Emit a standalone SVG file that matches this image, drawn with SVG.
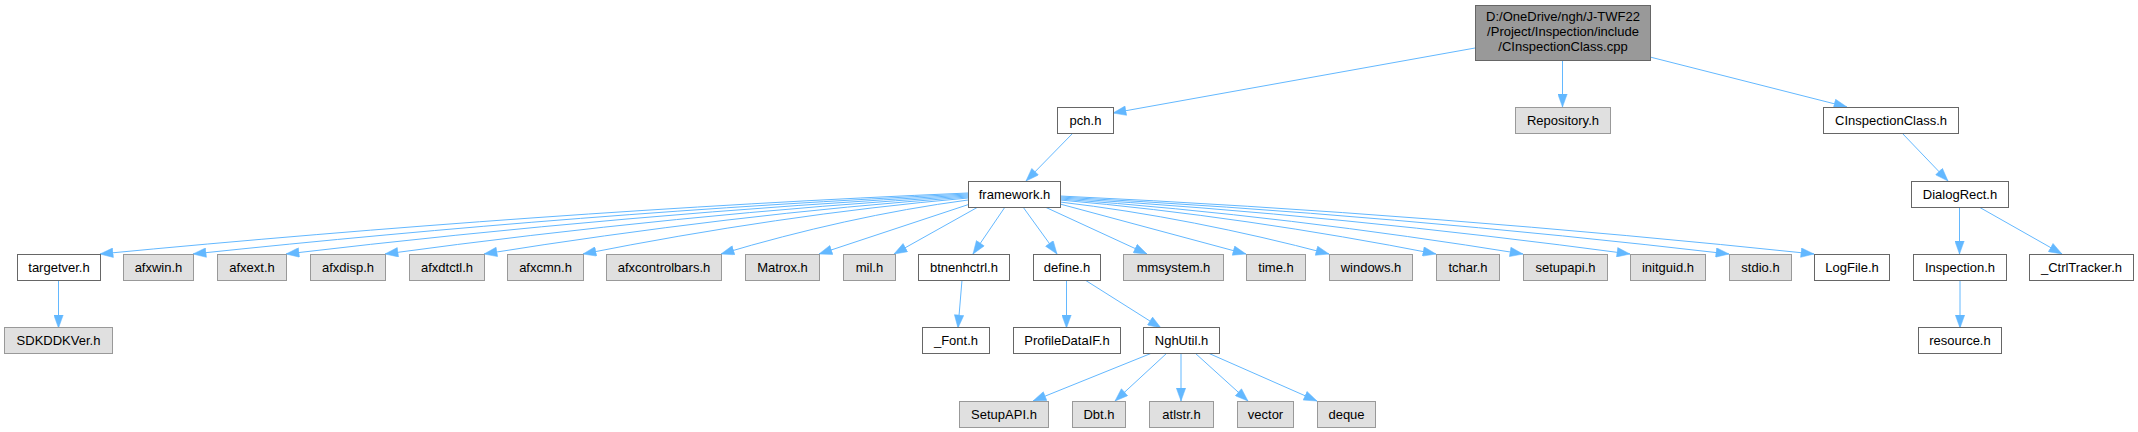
<svg xmlns="http://www.w3.org/2000/svg" width="2138" height="432" viewBox="0 0 2138 432">
<style>
.w rect{fill:#ffffff;stroke:#666666;stroke-width:1}
.g rect{fill:#e0e0e0;stroke:#999999;stroke-width:1}
.r rect{fill:#999999;stroke:#666666;stroke-width:1}
text{font-family:"Liberation Sans",Arial,sans-serif;font-size:13px;fill:#000000;text-anchor:middle}
#edges path{fill:none;stroke:#63b8ff;stroke-width:1;marker-end:url(#arr)}
</style>
<defs>
<marker id="arr" markerUnits="userSpaceOnUse" markerWidth="14" markerHeight="10" viewBox="0 0 13 10" refX="13" refY="5" orient="auto">
<path d="M0,0.3 L13,5 L0,9.7 z" fill="#63b8ff" stroke="#63b8ff" stroke-width="0.5"/>
</marker>
</defs>
<rect width="2138" height="432" fill="#ffffff"/>
<g id="edges">
<path d="M1475,48 L1113,113"/>
<path d="M1562.5,60 L1562.5,107"/>
<path d="M1650,57 L1847,107"/>
<path d="M1073,133 L1026,181"/>
<path d="M1902,133 L1948,181"/>
<path d="M1959.5,207 L1959.5,254"/>
<path d="M1979,207 L2062,254"/>
<path d="M1960,280 L1960,328"/>
<path d="M58.5,280 L58.5,328"/>
<path d="M962,280 L958,328"/>
<path d="M1066.5,280 L1066.5,328"/>
<path d="M1085,280 L1161,328"/>
<path d="M1152,353 L1033,401"/>
<path d="M1167,353 L1115,401"/>
<path d="M1181,353 L1181,401"/>
<path d="M1195,353 L1248,401"/>
<path d="M1208,353 L1317,401"/>
<path d="M968,193 C681.6,205.2 386.4,226.6 100,254"/>
<path d="M968,194 C712.3,206 448.8,227 193,254"/>
<path d="M968,195 C742.9,206.8 511.1,227.5 286,254"/>
<path d="M968,196 C775.6,207.6 577.4,227.9 385,254"/>
<path d="M968,197 C808.3,208.4 643.7,228.4 484,254"/>
<path d="M968,198 C840.9,209.2 710.1,228.8 583,254"/>
<path d="M968,200 C886.5,210.8 802.5,229.7 721,254"/>
<path d="M970,204 L819,254"/>
<path d="M978,207 L894,254"/>
<path d="M1005,207 L973,254"/>
<path d="M1023,207 L1057,254"/>
<path d="M1045,207 L1147,254"/>
<path d="M1060,204 L1246,254"/>
<path d="M1060,202 C1148.8,212.4 1240.2,230.6 1329,254"/>
<path d="M1060,200 C1184.1,210.8 1311.9,229.7 1436,254"/>
<path d="M1060,199 C1212.8,210 1370.2,229.3 1523,254"/>
<path d="M1060,198 C1248.1,209.2 1441.9,228.8 1630,254"/>
<path d="M1060,197 C1280.8,208.4 1508.2,228.4 1729,254"/>
<path d="M1060,196 C1308.8,207.6 1565.2,227.9 1814,254"/>
</g>
<g id="root" class="r"><rect x="1475.5" y="5.5" width="175" height="55"/><text x="1563" y="20.5">D:/OneDrive/ngh/J-TWF22</text><text x="1563" y="35.5">/Project/Inspection/include</text><text x="1563" y="50.5">/CInspectionClass.cpp</text></g>
<g id="pch" class="w"><rect x="1057.5" y="107.5" width="56" height="26"/><text x="1085.5" y="125">pch.h</text></g>
<g id="repository" class="g"><rect x="1515.5" y="107.5" width="95" height="26"/><text x="1563" y="125">Repository.h</text></g>
<g id="cinspectionclass" class="w"><rect x="1823.5" y="107.5" width="135" height="26"/><text x="1891" y="125">CInspectionClass.h</text></g>
<g id="framework" class="w"><rect x="968.5" y="181.5" width="92" height="26"/><text x="1014.5" y="199">framework.h</text></g>
<g id="dialogrect" class="w"><rect x="1911.5" y="181.5" width="97" height="26"/><text x="1960" y="199">DialogRect.h</text></g>
<g id="targetver" class="w"><rect x="17.5" y="254.5" width="83" height="26"/><text x="59" y="272">targetver.h</text></g>
<g id="afxwin" class="g"><rect x="123.5" y="254.5" width="70" height="26"/><text x="158.5" y="272">afxwin.h</text></g>
<g id="afxext" class="g"><rect x="217.5" y="254.5" width="69" height="26"/><text x="252" y="272">afxext.h</text></g>
<g id="afxdisp" class="g"><rect x="310.5" y="254.5" width="75" height="26"/><text x="348" y="272">afxdisp.h</text></g>
<g id="afxdtctl" class="g"><rect x="409.5" y="254.5" width="75" height="26"/><text x="447" y="272">afxdtctl.h</text></g>
<g id="afxcmn" class="g"><rect x="507.5" y="254.5" width="76" height="26"/><text x="545.5" y="272">afxcmn.h</text></g>
<g id="afxcontrolbars" class="g"><rect x="606.5" y="254.5" width="115" height="26"/><text x="664" y="272">afxcontrolbars.h</text></g>
<g id="matrox" class="g"><rect x="745.5" y="254.5" width="74" height="26"/><text x="782.5" y="272">Matrox.h</text></g>
<g id="mil" class="g"><rect x="843.5" y="254.5" width="52" height="26"/><text x="869.5" y="272">mil.h</text></g>
<g id="btnenhctrl" class="w"><rect x="918.5" y="254.5" width="91" height="26"/><text x="964" y="272">btnenhctrl.h</text></g>
<g id="define" class="w"><rect x="1033.5" y="254.5" width="67" height="26"/><text x="1067" y="272">define.h</text></g>
<g id="mmsystem" class="g"><rect x="1123.5" y="254.5" width="100" height="26"/><text x="1173.5" y="272">mmsystem.h</text></g>
<g id="time" class="g"><rect x="1246.5" y="254.5" width="59" height="26"/><text x="1276" y="272">time.h</text></g>
<g id="windows" class="g"><rect x="1329.5" y="254.5" width="83" height="26"/><text x="1371" y="272">windows.h</text></g>
<g id="tchar" class="g"><rect x="1436.5" y="254.5" width="63" height="26"/><text x="1468" y="272">tchar.h</text></g>
<g id="setupapi" class="g"><rect x="1523.5" y="254.5" width="84" height="26"/><text x="1565.5" y="272">setupapi.h</text></g>
<g id="initguid" class="g"><rect x="1630.5" y="254.5" width="75" height="26"/><text x="1668" y="272">initguid.h</text></g>
<g id="stdio" class="g"><rect x="1729.5" y="254.5" width="62" height="26"/><text x="1760.5" y="272">stdio.h</text></g>
<g id="logfile" class="w"><rect x="1814.5" y="254.5" width="75" height="26"/><text x="1852" y="272">LogFile.h</text></g>
<g id="inspection" class="w"><rect x="1913.5" y="254.5" width="93" height="26"/><text x="1960" y="272">Inspection.h</text></g>
<g id="ctrltracker" class="w"><rect x="2029.5" y="254.5" width="104" height="26"/><text x="2081.5" y="272">_CtrlTracker.h</text></g>
<g id="sdkddkver" class="g"><rect x="4.5" y="327.5" width="108" height="26"/><text x="58.5" y="345">SDKDDKVer.h</text></g>
<g id="font" class="w"><rect x="922.5" y="327.5" width="67" height="26"/><text x="956" y="345">_Font.h</text></g>
<g id="profiledataif" class="w"><rect x="1013.5" y="327.5" width="107" height="26"/><text x="1067" y="345">ProfileDataIF.h</text></g>
<g id="nghutil" class="w"><rect x="1143.5" y="327.5" width="76" height="26"/><text x="1181.5" y="345">NghUtil.h</text></g>
<g id="resource" class="w"><rect x="1918.5" y="327.5" width="83" height="26"/><text x="1960" y="345">resource.h</text></g>
<g id="setupapi2" class="g"><rect x="959.5" y="401.5" width="89" height="26"/><text x="1004" y="419">SetupAPI.h</text></g>
<g id="dbt" class="g"><rect x="1072.5" y="401.5" width="53" height="26"/><text x="1099" y="419">Dbt.h</text></g>
<g id="atlstr" class="g"><rect x="1149.5" y="401.5" width="64" height="26"/><text x="1181.5" y="419">atlstr.h</text></g>
<g id="vector" class="g"><rect x="1237.5" y="401.5" width="56" height="26"/><text x="1265.5" y="419">vector</text></g>
<g id="deque" class="g"><rect x="1317.5" y="401.5" width="58" height="26"/><text x="1346.5" y="419">deque</text></g>
</svg>
